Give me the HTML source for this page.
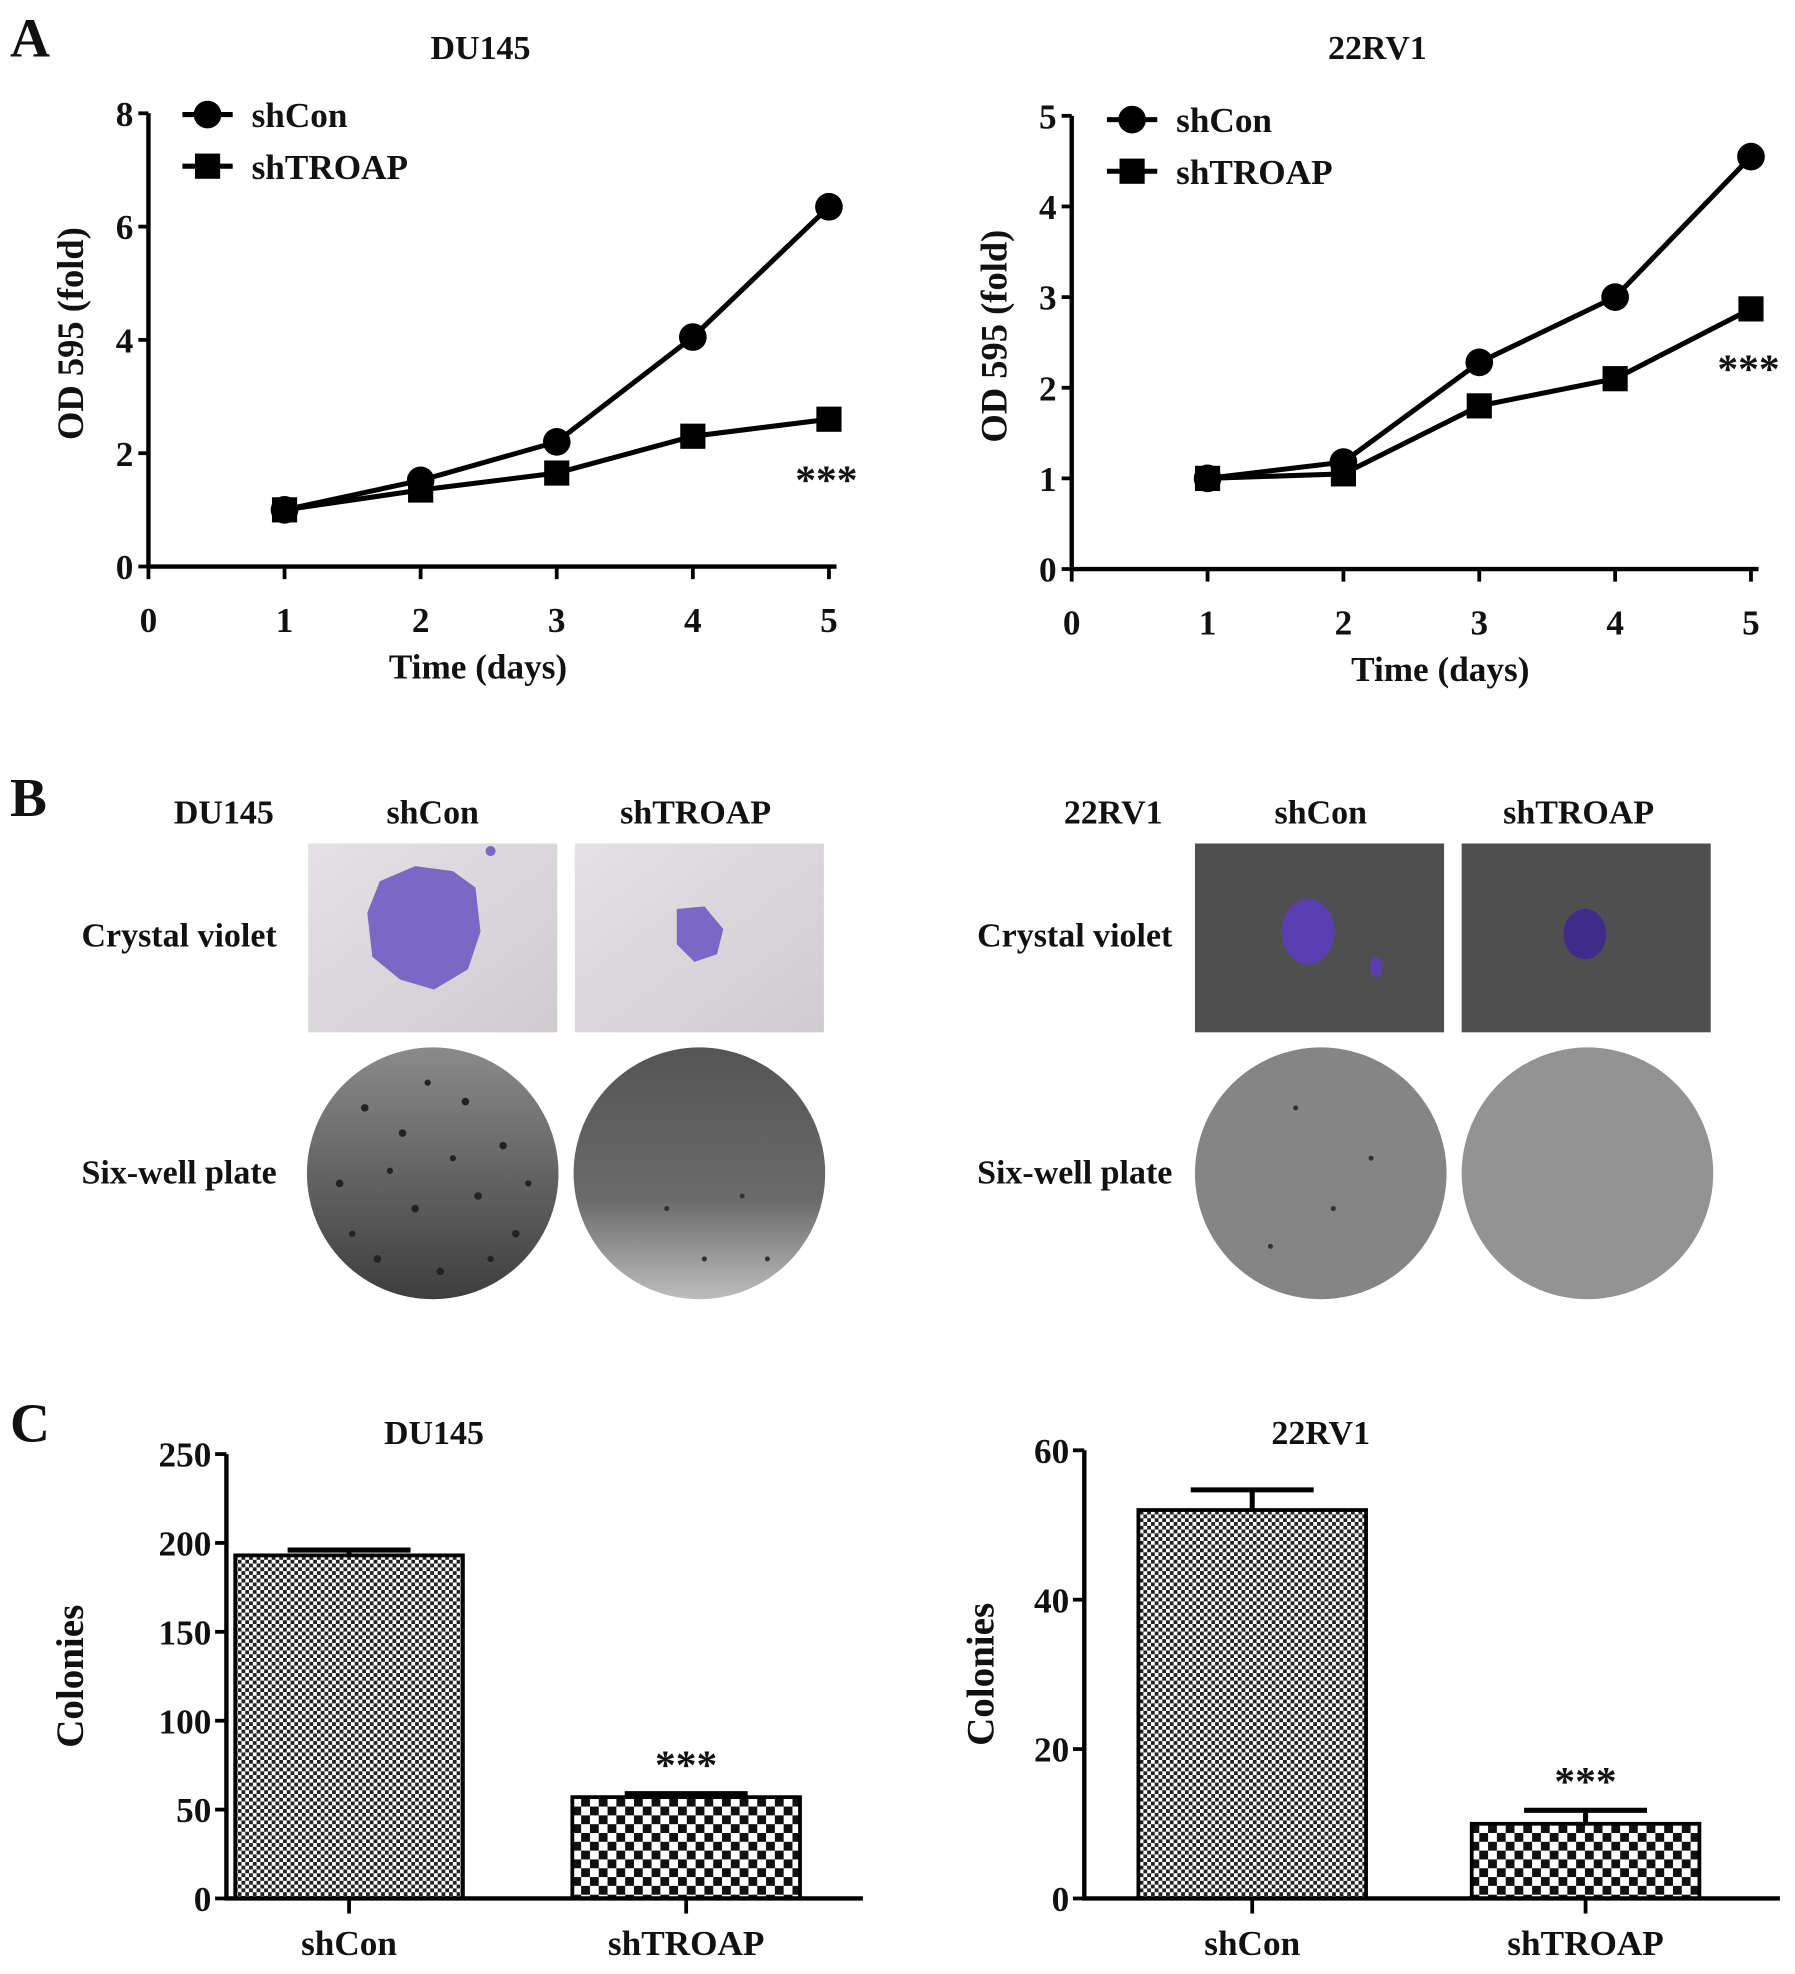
<!DOCTYPE html>
<html><head><meta charset="utf-8">
<style>
html,body{margin:0;padding:0;background:#fff;}
svg{display:block;}
text{font-family:"Liberation Serif",serif;font-weight:bold;fill:#111;}
</style></head>
<body>
<svg id="fig" width="1795" height="1974" viewBox="0 0 1427 1568" preserveAspectRatio="none" xmlns="http://www.w3.org/2000/svg">
<defs>
  <pattern id="fine" width="6" height="6" patternUnits="userSpaceOnUse">
    <rect width="6" height="6" fill="#fff"/><rect width="3" height="3" fill="#222"/><rect x="3" y="3" width="3" height="3" fill="#222"/>
  </pattern>
  <pattern id="coarse" width="14" height="14" patternUnits="userSpaceOnUse">
    <rect width="14" height="14" fill="#fff"/><rect width="7" height="7" fill="#111"/><rect x="7" y="7" width="7" height="7" fill="#111"/>
  </pattern>
  <linearGradient id="cvL" x1="0" y1="0" x2="1" y2="1"><stop offset="0" stop-color="#e4e1e4"/><stop offset="1" stop-color="#cfcccf"/></linearGradient>
  <linearGradient id="w1" x1="0" y1="0" x2="0" y2="1"><stop offset="0" stop-color="#8a8a8a"/><stop offset="1" stop-color="#3e3e3e"/></linearGradient>
  <linearGradient id="w2" x1="0" y1="0" x2="0" y2="1"><stop offset="0" stop-color="#555"/><stop offset="0.6" stop-color="#6a6a6a"/><stop offset="1" stop-color="#bdbdbd"/></linearGradient>
</defs>

<text x="8" y="45" font-size="44">A</text>
<text x="8" y="648" font-size="44">B</text>
<text x="8" y="1145" font-size="44">C</text>

<g id="lineCharts"></g>
<g id="barCharts"></g>

<g>
  <text x="178" y="654" text-anchor="middle" font-size="27">DU145</text>
  <text x="344" y="654" text-anchor="middle" font-size="27">shCon</text>
  <text x="553" y="654" text-anchor="middle" font-size="27">shTROAP</text>
  <text x="220" y="752" text-anchor="end" font-size="27">Crystal violet</text>
  <text x="220" y="940" text-anchor="end" font-size="27">Six-well plate</text>

  <g>
    <rect x="245" y="670" width="198" height="150" fill="url(#cvL)"/>
    <path d="M302 700 L330 688 L360 692 L378 705 L382 740 L372 770 L345 786 L318 778 L296 760 L292 725 Z" fill="#7a68c4"/>
    <circle cx="390" cy="676" r="4" fill="#7a68c4"/>
  </g>
  <g>
    <rect x="457" y="670" width="198" height="150" fill="url(#cvL)"/>
    <path d="M538 722 L560 720 L575 738 L570 758 L552 764 L538 750 Z" fill="#7a68c4"/>
  </g>
  <g>
    <circle cx="344" cy="932" r="100" fill="url(#w1)"/>
    <g fill="#222">
      <circle cx="290" cy="880" r="3"/><circle cx="320" cy="900" r="3"/><circle cx="370" cy="875" r="3"/><circle cx="400" cy="910" r="3"/>
      <circle cx="270" cy="940" r="3"/><circle cx="330" cy="960" r="3"/><circle cx="380" cy="950" r="3"/><circle cx="410" cy="980" r="3"/>
      <circle cx="300" cy="1000" r="3"/><circle cx="350" cy="1010" r="3"/><circle cx="280" cy="980" r="2.5"/><circle cx="420" cy="940" r="2.5"/>
      <circle cx="340" cy="860" r="2.5"/><circle cx="360" cy="920" r="2.5"/><circle cx="310" cy="930" r="2.5"/><circle cx="390" cy="1000" r="2.5"/>
    </g>
  </g>
  <g>
    <circle cx="556" cy="932" r="100" fill="url(#w2)"/>
    <g fill="#333"><circle cx="530" cy="960" r="2"/><circle cx="590" cy="950" r="2"/><circle cx="560" cy="1000" r="2"/><circle cx="610" cy="1000" r="2"/></g>
  </g>

  <text x="885" y="654" text-anchor="middle" font-size="27">22RV1</text>
  <text x="1050" y="654" text-anchor="middle" font-size="27">shCon</text>
  <text x="1255" y="654" text-anchor="middle" font-size="27">shTROAP</text>
  <text x="932" y="752" text-anchor="end" font-size="27">Crystal violet</text>
  <text x="932" y="940" text-anchor="end" font-size="27">Six-well plate</text>

  <g>
    <rect x="950" y="670" width="198" height="150" fill="#4f4f4f"/>
    <ellipse cx="1040" cy="740" rx="21" ry="26" fill="#5a3fb0"/>
    <ellipse cx="1094" cy="768" rx="5" ry="8" fill="#5a3fb0"/>
  </g>
  <g>
    <rect x="1162" y="670" width="198" height="150" fill="#4f4f4f"/>
    <ellipse cx="1260" cy="742" rx="17" ry="20" fill="#3e2b8a"/>
  </g>
  <g>
    <circle cx="1050" cy="932" r="100" fill="#858585"/>
    <g fill="#333"><circle cx="1030" cy="880" r="2"/><circle cx="1060" cy="960" r="2"/><circle cx="1010" cy="990" r="2"/><circle cx="1090" cy="920" r="2"/></g>
  </g>
  <g>
    <circle cx="1262" cy="932" r="100" fill="#939393"/>
  </g>
</g>

<script>
// ---- Panel A data ----
const lineDays = [1, 2, 3, 4, 5];
const du145ShCon = [1.0, 1.52, 2.2, 4.05, 6.35];
const du145ShTROAP = [1.0, 1.35, 1.65, 2.3, 2.6];
const rv1ShCon = [1.0, 1.18, 2.28, 3.0, 4.55];
const rv1ShTROAP = [1.0, 1.05, 1.8, 2.1, 2.87];
const xTicks = [0, 1, 2, 3, 4, 5];
const du145YTicks = [0, 2, 4, 6, 8];
const rv1YTicks = [0, 1, 2, 3, 4, 5];
const seriesNames = ["shCon", "shTROAP"];

// ---- Panel C data ----
const barCategories = ["shCon", "shTROAP"];
const du145Colonies = [193, 57];
const du145Err = [3, 2];
const rv1Colonies = [52, 10];
const rv1Err = [2.7, 1.8];
const du145BarTicks = [0, 50, 100, 150, 200, 250];
const rv1BarTicks = [0, 20, 40, 60];

const NS = "http://www.w3.org/2000/svg";
function mk(tag, attrs, parent, txt) {
  const e = document.createElementNS(NS, tag);
  for (const k in attrs) e.setAttribute(k, attrs[k]);
  if (txt !== undefined) e.textContent = txt;
  parent.appendChild(e);
  return e;
}

function lineChart(cfg) {
  const root = document.getElementById("lineCharts");
  const g = mk("g", {}, root);
  
  
  const xs = v => cfg.x0 + (v - 0) / 5 * (cfg.x1 - cfg.x0);
  const ys = v => cfg.y0 - v / cfg.ymax * (cfg.y0 - cfg.y1);
  const t = mk("text", {x: cfg.titleX, y: 47, "text-anchor": "middle", "font-size": 27}, g, cfg.title);
  
  
  const ax = mk("path", {d: `M${cfg.x0} ${cfg.y1} V${cfg.y0} H${cfg.x1 + 6}`, stroke: "#000", "stroke-width": 3.5, fill: "none"}, g);
  
  
  cfg.yTicks.forEach(v => {
    mk("line", {x1: cfg.x0 - 8, x2: cfg.x0, y1: ys(v), y2: ys(v), stroke: "#000", "stroke-width": 3}, g);
    const l = mk("text", {x: cfg.x0 - 12, y: ys(v) + 10, "text-anchor": "end", "font-size": 28}, g, v);
    
    
  });
  xTicks.forEach(v => {
    mk("line", {x1: xs(v), x2: xs(v), y1: cfg.y0, y2: cfg.y0 + 10, stroke: "#000", "stroke-width": 3}, g);
    const l = mk("text", {x: xs(v), y: cfg.y0 + 52, "text-anchor": "middle", "font-size": 28}, g, v);
    
    
  });
  const xt = mk("text", {x: cfg.xtX, y: cfg.y0 + 89, "text-anchor": "middle", "font-size": 28}, g, "Time (days)");
  
  
  const cy = (cfg.y0 + cfg.y1) / 2 - 5;
  const yt = mk("text", {x: cfg.ytX, y: cy, "text-anchor": "middle", "font-size": 29, transform: `rotate(-90 ${cfg.ytX} ${cy})`}, g, "OD 595 (fold)");
  
  
  [cfg.s1, cfg.s2].forEach((s, si) => {
    const pts = lineDays.map((d, i) => xs(d) + "," + ys(s[i])).join(" ");
    const pl = mk("polyline", {points: pts, fill: "none", stroke: "#000", "stroke-width": 4}, g);
    
    
    lineDays.forEach((d, i) => {
      let m;
      if (si === 0) m = mk("circle", {cx: xs(d), cy: ys(s[i]), r: 11, fill: "#000"}, g);
      else m = mk("rect", {x: xs(d) - 10, y: ys(s[i]) - 10, width: 20, height: 20, fill: "#000"}, g);
      
      
    });
  });
  seriesNames.forEach((n, i) => {
    const ly = cfg.legY + i * 41;
    mk("line", {x1: cfg.legX, x2: cfg.legX + 40, y1: ly, y2: ly, stroke: "#000", "stroke-width": 4}, g);
    let m;
    if (i === 0) m = mk("circle", {cx: cfg.legX + 20, cy: ly, r: 11, fill: "#000"}, g);
    else m = mk("rect", {x: cfg.legX + 10, y: ly - 10, width: 20, height: 20, fill: "#000"}, g);
    
    
    const lt = mk("text", {x: cfg.legX + 55, y: ly + 10, "font-size": 28}, g, n);
    
    
  });
  const st = mk("text", {x: cfg.starX, y: cfg.starY, "text-anchor": "middle", "font-size": 33, "font-weight": "normal"}, g, "***");
  
  
}

lineChart({name: "du145-growth-chart", title: "DU145", titleX: 382, x0: 118, x1: 659, y0: 450, y1: 90, ymax: 8, xtX: 380,
  yTicks: du145YTicks, s1: du145ShCon, s2: du145ShTROAP, ytX: 66, legX: 145, legY: 91, starX: 657, starY: 392});
lineChart({name: "22rv1-growth-chart", title: "22RV1", titleX: 1095, x0: 852, x1: 1392, y0: 452, y1: 92, ymax: 5, xtX: 1145,
  yTicks: rv1YTicks, s1: rv1ShCon, s2: rv1ShTROAP, ytX: 800, legX: 880, legY: 95, starX: 1390, starY: 304});

function barChart(cfg) {
  const root = document.getElementById("barCharts");
  const g = mk("g", {}, root);
  
  
  const ys = v => cfg.y0 - v / cfg.ymax * (cfg.y0 - cfg.y1);
  const t = mk("text", {x: cfg.titleX, y: 1147, "text-anchor": "middle", "font-size": 27}, g, cfg.title);
  
  
  cfg.yTicks.forEach(v => {
    mk("line", {x1: cfg.x0 - 9, x2: cfg.x0, y1: ys(v), y2: ys(v), stroke: "#000", "stroke-width": 3}, g);
    const l = mk("text", {x: cfg.x0 - 12, y: ys(v) + 10, "text-anchor": "end", "font-size": 28}, g, v);
    
    
  });
  const cy = (cfg.y0 + cfg.y1) / 2;
  const yt = mk("text", {x: cfg.ytX, y: cy, "text-anchor": "middle", "font-size": 31, transform: `rotate(-90 ${cfg.ytX} ${cy})`}, g, "Colonies");
  
  
  barCategories.forEach((c, i) => {
    const bx = cfg.barX[i], bw = cfg.barW;
    const cx = bx + bw / 2;
    const et = ys(cfg.vals[i] + cfg.errs[i]);
    const e = mk("path", {d: `M${cx} ${ys(cfg.vals[i])} V${et} M${cx - bw * 0.27} ${et} H${cx + bw * 0.27}`, stroke: "#000", "stroke-width": 4, fill: "none"}, g);
    
    
    const r = mk("rect", {x: bx, y: ys(cfg.vals[i]), width: bw, height: cfg.y0 - ys(cfg.vals[i]), fill: i === 0 ? "url(#fine)" : "url(#coarse)", stroke: "#000", "stroke-width": 3}, g);
    
    
    mk("line", {x1: cx, x2: cx, y1: cfg.y0, y2: cfg.y0 + 12, stroke: "#000", "stroke-width": 3}, g);
    const l = mk("text", {x: cx, y: cfg.y0 + 45, "text-anchor": "middle", "font-size": 28}, g, c);
    
    
  });
  const ax = mk("path", {d: `M${cfg.x0} ${cfg.y1} V${cfg.y0} H${cfg.x1}`, stroke: "#000", "stroke-width": 3.5, fill: "none"}, g);
  
  
  const sx = cfg.barX[1] + cfg.barW / 2;
  const st = mk("text", {x: sx, y: ys(cfg.vals[1] + cfg.errs[1]) - 12, "text-anchor": "middle", "font-size": 33, "font-weight": "normal"}, g, "***");
  
  
}

barChart({name: "du145-colonies-chart", title: "DU145", titleX: 345, x0: 180, x1: 686, y0: 1508, y1: 1155, ymax: 250,
  yTicks: du145BarTicks, vals: du145Colonies, errs: du145Err, barX: [187, 455], barW: 181, ytX: 66});
barChart({name: "22rv1-colonies-chart", title: "22RV1", titleX: 1050, x0: 862, x1: 1415, y0: 1508, y1: 1152, ymax: 60,
  yTicks: rv1BarTicks, vals: rv1Colonies, errs: rv1Err, barX: [905, 1170], barW: 181, ytX: 790});
</script>
</svg>
</body></html>
